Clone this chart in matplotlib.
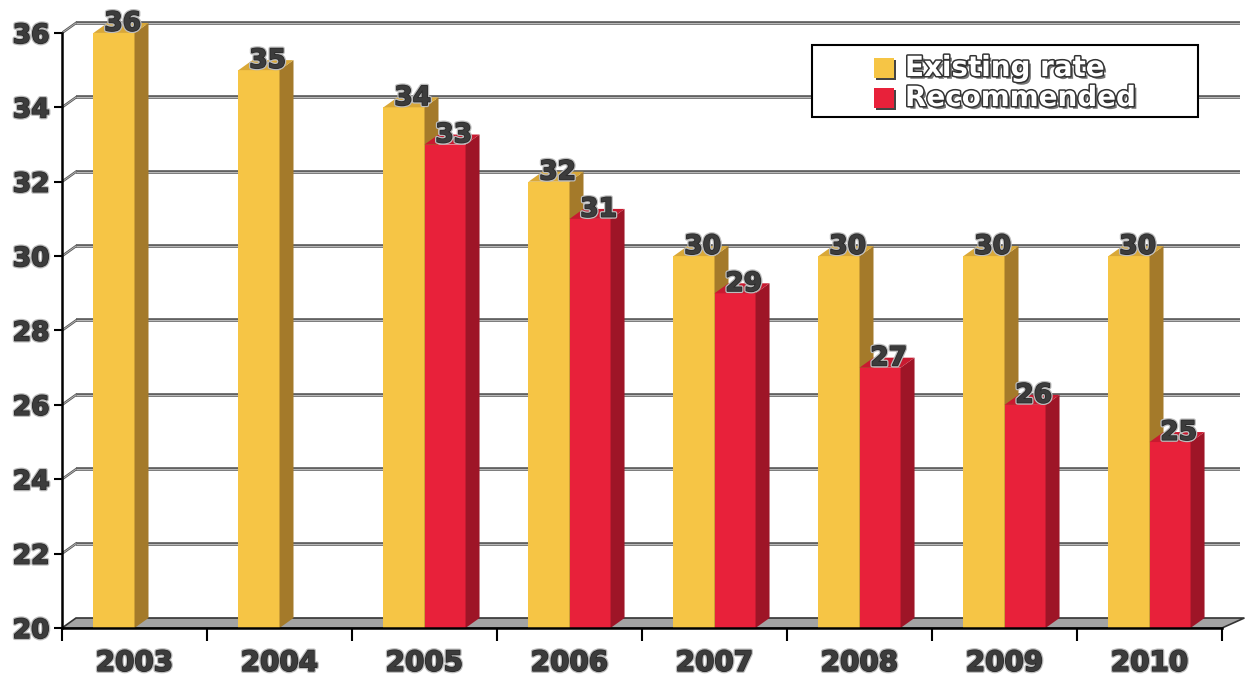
import matplotlib.pyplot as plt
import matplotlib.patheffects as pe
from matplotlib.patches import Polygon, Rectangle

# chart data
years = ['2003', '2004', '2005', '2006', '2007', '2008', '2009', '2010']
existing = [36, 35, 34, 32, 30, 30, 30, 30]
recommended = [None, None, 33, 31, 29, 27, 26, 25]
yticks = [20, 22, 24, 26, 28, 30, 32, 34, 36]

YELLOW = ('#f6c545', '#a47a2a', '#d9a838')   # front, side, top
RED = ('#e8213a', '#9e1527', '#c81a30')
TXT = '#3c3c3c'
outline = [pe.withStroke(linewidth=3, foreground='#bdbdbd'),
           pe.withStroke(linewidth=1.2, foreground='#2a2a2a')]

fig = plt.figure(figsize=(12.47, 6.81), dpi=100)
ax = fig.add_axes([62 / 1247, 53 / 681, 1178 / 1247, 618 / 681])

n = len(years)
xmax = 1178 / 145
ax.set_xlim(0, xmax)
ax.set_ylim(20, 20 + 618 / 37.19)

# depth offsets for the fake 3d look
dx = 14 / 145
dy = 10 / 37.19
w = 0.283

# back wall grid lines and the short links to the front axis
for v in yticks[1:]:
    for col, lw in (('#555555', 2.6), ('#b8b8b8', 0.9)):
        ax.plot([dx, xmax], [v + dy, v + dy], color=col, lw=lw, zorder=1,
                solid_capstyle='butt')
        ax.plot([0, dx], [v, v + dy], color=col, lw=lw * 0.7, zorder=1)

# floor
ax.add_patch(Polygon([(0, 20), (n, 20), (n + dx * 1.6, 20 + dy), (dx, 20 + dy)],
                     closed=True, facecolor='#a3a3a3', edgecolor='#333333',
                     lw=1.2, zorder=2, clip_on=False))


def bar3d(x0, v, colors):
    front, side, top = colors
    x1 = x0 + w
    ax.bar(x0, v - 20, width=w, bottom=20, align='edge', color=front,
           edgecolor='none', zorder=3)
    ax.add_patch(Polygon([(x1, 20), (x1 + dx, 20 + dy), (x1 + dx, v + dy), (x1, v)],
                         closed=True, facecolor=side, edgecolor='none', zorder=3))
    ax.add_patch(Polygon([(x0, v), (x1, v), (x1 + dx, v + dy), (x0 + dx, v + dy)],
                         closed=True, facecolor=top, edgecolor='none', zorder=3))


def value_label(x0, v):
    t = ax.text(x0 + w / 2 + 0.06, v + 0.25, str(v), ha='center', va='center',
                fontsize=19, fontweight='bold', color=TXT, zorder=5)
    t.set_path_effects(outline)


for i in range(n):
    c = i + 0.5
    bar3d(c - w, existing[i], YELLOW)
    if recommended[i] is not None:
        bar3d(c, recommended[i], RED)
for i in range(n):
    c = i + 0.5
    value_label(c - w, existing[i])
    if recommended[i] is not None:
        value_label(c, recommended[i])

# axes
for s in ('top', 'right'):
    ax.spines[s].set_visible(False)
ax.spines['left'].set_bounds(20, 36)
ax.spines['bottom'].set_bounds(0, n)
ax.spines['left'].set_linewidth(1.8)
ax.spines['bottom'].set_linewidth(1.8)
ax.spines['left'].set_zorder(4)
ax.spines['bottom'].set_zorder(4)

ax.set_yticks(yticks)
ax.set_yticklabels([str(v) for v in yticks])
ax.tick_params(axis='y', length=6, width=1.5, pad=3, labelsize=19,
               labelcolor=TXT)
ax.set_xticks(range(n + 1))
ax.set_xticklabels([])
ax.tick_params(axis='x', which='major', length=9, width=1.5)
ax.set_xticks([i + 0.5 for i in range(n)], minor=True)
ax.set_xticklabels(years, minor=True)
ax.tick_params(axis='x', which='minor', length=0, pad=15, labelsize=20,
               labelcolor=TXT)
for lbl in ax.get_yticklabels() + ax.get_xticklabels(minor=True):
    lbl.set_fontweight('bold')
    lbl.set_path_effects(outline)

# legend box
fig.patches.append(Rectangle((812 / 1247, 1 - 117 / 681), 386 / 1247, 72 / 681,
                             transform=fig.transFigure, facecolor='white',
                             edgecolor='black', lw=1.5, zorder=10))
legend_items = [('Existing rate', YELLOW[0], 68), ('Recommended', RED[0], 98)]
legend_fx = [pe.SimplePatchShadow(offset=(2, -2), shadow_rgbFace='#555555', alpha=0.8),
             pe.withStroke(linewidth=2.2, foreground='#333333')]
for label, col, ypx in legend_items:
    fig.patches.append(Rectangle((874 / 1247, 1 - (ypx + 10) / 681), 20 / 1247, 20 / 681,
                                 transform=fig.transFigure, facecolor=col,
                                 edgecolor='none', zorder=11))
    fig.patches.append(Rectangle((876 / 1247, 1 - (ypx + 12) / 681), 20 / 1247, 20 / 681,
                                 transform=fig.transFigure, facecolor='#444444',
                                 edgecolor='none', zorder=10.5))
    t = fig.text(905 / 1247, 1 - ypx / 681, label, ha='left', va='center',
                 fontsize=20, fontweight='bold', color='white', zorder=12)
    t.set_path_effects(legend_fx)

fig.savefig('out.png', dpi=100, facecolor='white')
